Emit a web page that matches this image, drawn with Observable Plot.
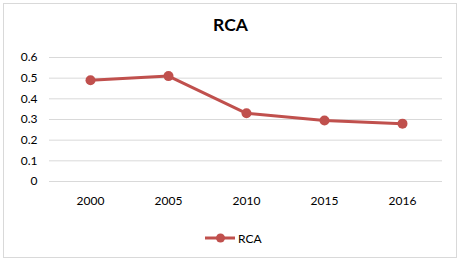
<!DOCTYPE html>
<html>
<head>
<meta charset="utf-8">
<script src="https://cdn.jsdelivr.net/npm/d3@7"></script>
<script src="https://cdn.jsdelivr.net/npm/@observablehq/plot@0.6"></script>
<style>
  html, body { margin: 0; padding: 0; background: #fff; }
  #wrap { position: relative; width: 461px; height: 263px; font-family: Lato, "Open Sans", sans-serif; }
  #frame { position: absolute; left: 3px; top: 3px; width: 452px; height: 253px; border: 1px solid #d9d9d9; }
  #title { position: absolute; left: 0; width: 461px; top: 14px; text-align: center; font-weight: bold; font-size: 17.5px; color: #000; }
  #plot { position: absolute; left: 0; top: 0; }
  #legend { position: absolute; left: 205px; top: 229px; display: flex; align-items: center; font-size: 12px; color: #000; }
</style>
</head>
<body>
<div id="wrap">
  <div id="frame"></div>
  <div id="plot"></div>
  <div id="title">RCA</div>
  <div id="legend"></div>
</div>
<script>
const years = ["2000", "2005", "2010", "2015", "2016"];
const rca = [0.49, 0.51, 0.33, 0.295, 0.28];
const yTicks = [0, 0.1, 0.2, 0.3, 0.4, 0.5, 0.6];
const seriesName = "RCA";
const color = "#C0504D";

const data = years.map((y, i) => ({year: y, value: rca[i]}));

const chart = Plot.plot({
  width: 461,
  height: 263,
  marginLeft: 49,
  marginRight: 19,
  marginTop: 57,
  marginBottom: 82,
  style: {fontFamily: "Lato, 'Open Sans', sans-serif", fontSize: "12px", color: "#000", background: "transparent"},
  x: {type: "point", domain: years, padding: 0.5, label: null},
  y: {domain: [0, 0.6], label: null},
  marks: [
    Plot.ruleY(yTicks, {stroke: "#d9d9d9", strokeWidth: 1}),
    Plot.axisY({ticks: yTicks, tickSize: 0, tickPadding: 12, tickFormat: d => String(d), fontSize: 12}),
    Plot.axisX({tickSize: 0, tickPadding: 15, fontSize: 12}),
    Plot.line(data, {x: "year", y: "value", stroke: color, strokeWidth: 3}),
    Plot.dot(data, {x: "year", y: "value", fill: color, r: 5})
  ]
});
document.getElementById("plot").appendChild(chart);

const leg = d3.select("#legend");
const ls = leg.append("svg").attr("width", 31).attr("height", 18);
ls.append("line").attr("x1", 0).attr("x2", 30).attr("y1", 9).attr("y2", 9).attr("stroke", color).attr("stroke-width", 3);
ls.append("circle").attr("cx", 15.5).attr("cy", 9).attr("r", 4.5).attr("fill", color);
leg.append("span").style("margin-left", "2px").text(seriesName);
</script>
</body>
</html>
